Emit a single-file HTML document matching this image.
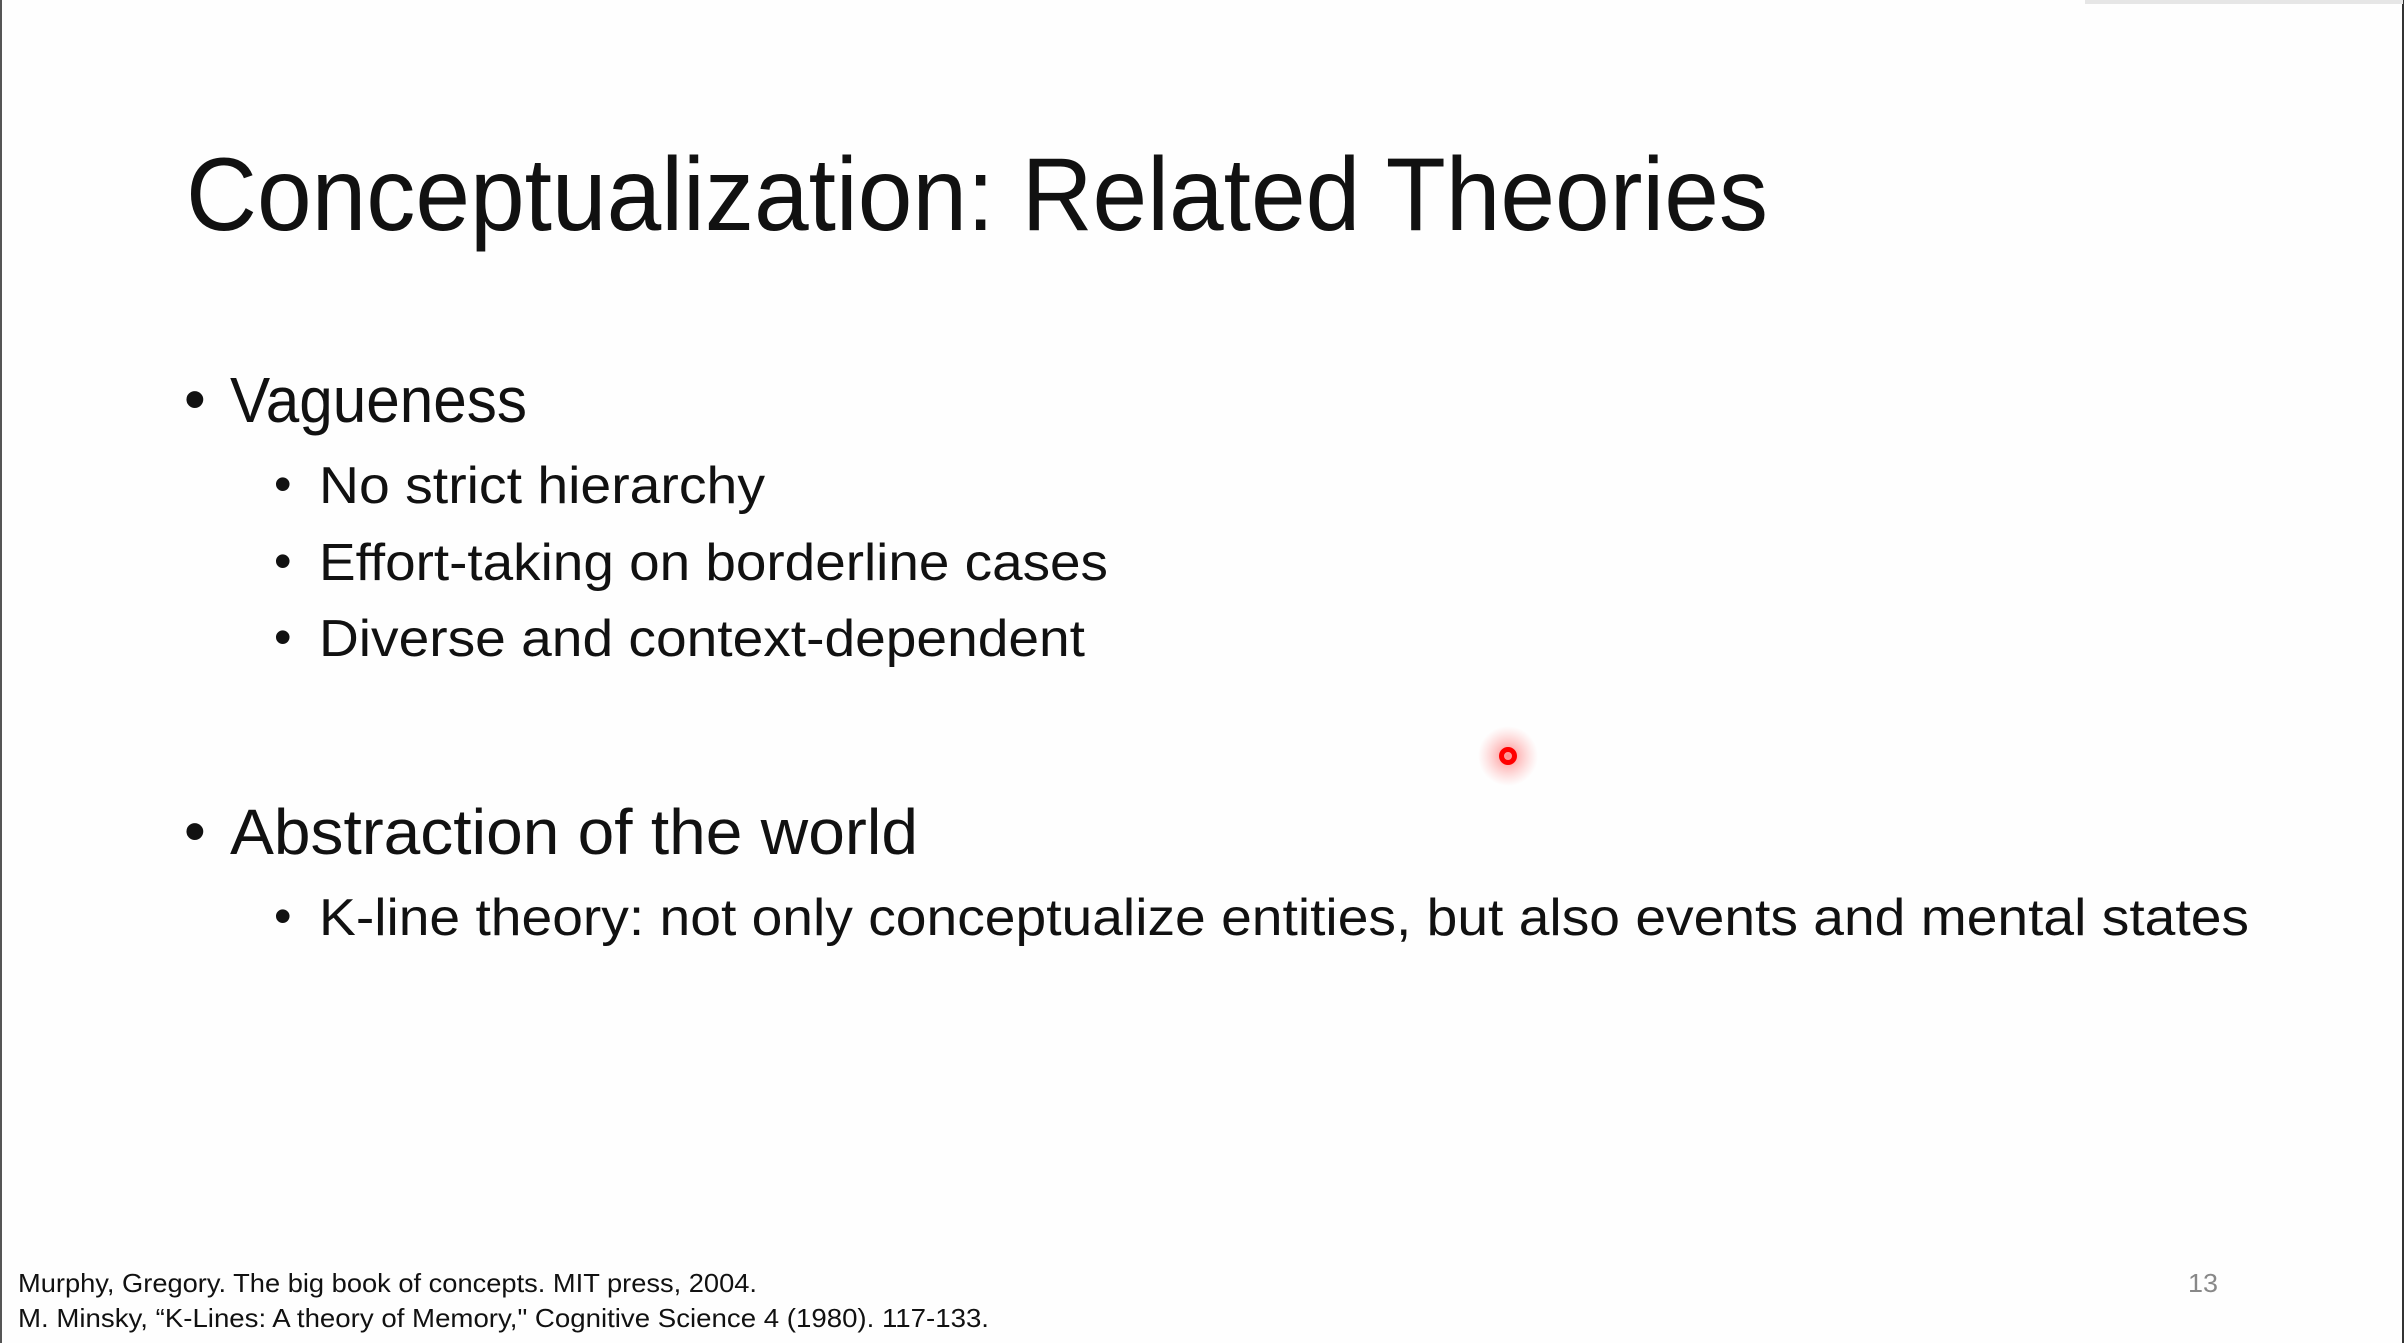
<!DOCTYPE html>
<html><head><meta charset="utf-8"><style>
html,body{margin:0;padding:0;background:#fefefe;}
svg{display:block}
</style></head><body>
<svg width="2404" height="1343" viewBox="0 0 2404 1343" xmlns="http://www.w3.org/2000/svg" font-family="Liberation Sans, sans-serif">
<rect width="2404" height="1343" fill="#fefefe"/>
<line x1="1" y1="0" x2="1" y2="1343" stroke="#555" stroke-width="2"/>
<line x1="2403" y1="0" x2="2403" y2="1343" stroke="#333" stroke-width="2"/>
<rect x="2085" y="0" width="318" height="4" fill="#e6e6e6"/>
<text x="186" y="230" font-size="104" fill="#111" textLength="1582" lengthAdjust="spacingAndGlyphs">Conceptualization: Related Theories</text>
<g fill="#111">
<text x="184" y="420" font-size="62">•</text>
<text x="230" y="422" font-size="64" textLength="297" lengthAdjust="spacingAndGlyphs">Vagueness</text>
<text x="274" y="501" font-size="50">•</text>
<text x="319" y="503" font-size="52" textLength="446" lengthAdjust="spacingAndGlyphs">No strict hierarchy</text>
<text x="274" y="578" font-size="50">•</text>
<text x="319" y="580" font-size="52" textLength="789" lengthAdjust="spacingAndGlyphs">Effort-taking on borderline cases</text>
<text x="274" y="654" font-size="50">•</text>
<text x="319" y="656" font-size="52" textLength="766" lengthAdjust="spacingAndGlyphs">Diverse and context-dependent</text>
<text x="184" y="852" font-size="62">•</text>
<text x="230" y="854" font-size="64" textLength="688" lengthAdjust="spacingAndGlyphs">Abstraction of the world</text>
<text x="274" y="933" font-size="50">•</text>
<text x="319" y="935" font-size="52" textLength="1930" lengthAdjust="spacingAndGlyphs">K-line theory: not only conceptualize entities, but also events and mental states</text>
<text x="18" y="1292" font-size="26" textLength="739" lengthAdjust="spacingAndGlyphs">Murphy, Gregory. The big book of concepts. MIT press, 2004.</text>
<text x="18" y="1327" font-size="26" textLength="971" lengthAdjust="spacingAndGlyphs">M. Minsky, “K-Lines: A theory of Memory," Cognitive Science 4 (1980). 117-133.</text>
</g>
<text x="2188" y="1292" font-size="26" fill="#888" textLength="30" lengthAdjust="spacingAndGlyphs">13</text>
<defs><radialGradient id="g"><stop offset="0" stop-color="#ff4040" stop-opacity="0.6"/><stop offset="1" stop-color="#ff8080" stop-opacity="0"/></radialGradient></defs>
<circle cx="1508" cy="756" r="30" fill="url(#g)"/>
<circle cx="1508" cy="756" r="6.5" fill="none" stroke="#f00" stroke-width="5"/>
</svg>
</body></html>
